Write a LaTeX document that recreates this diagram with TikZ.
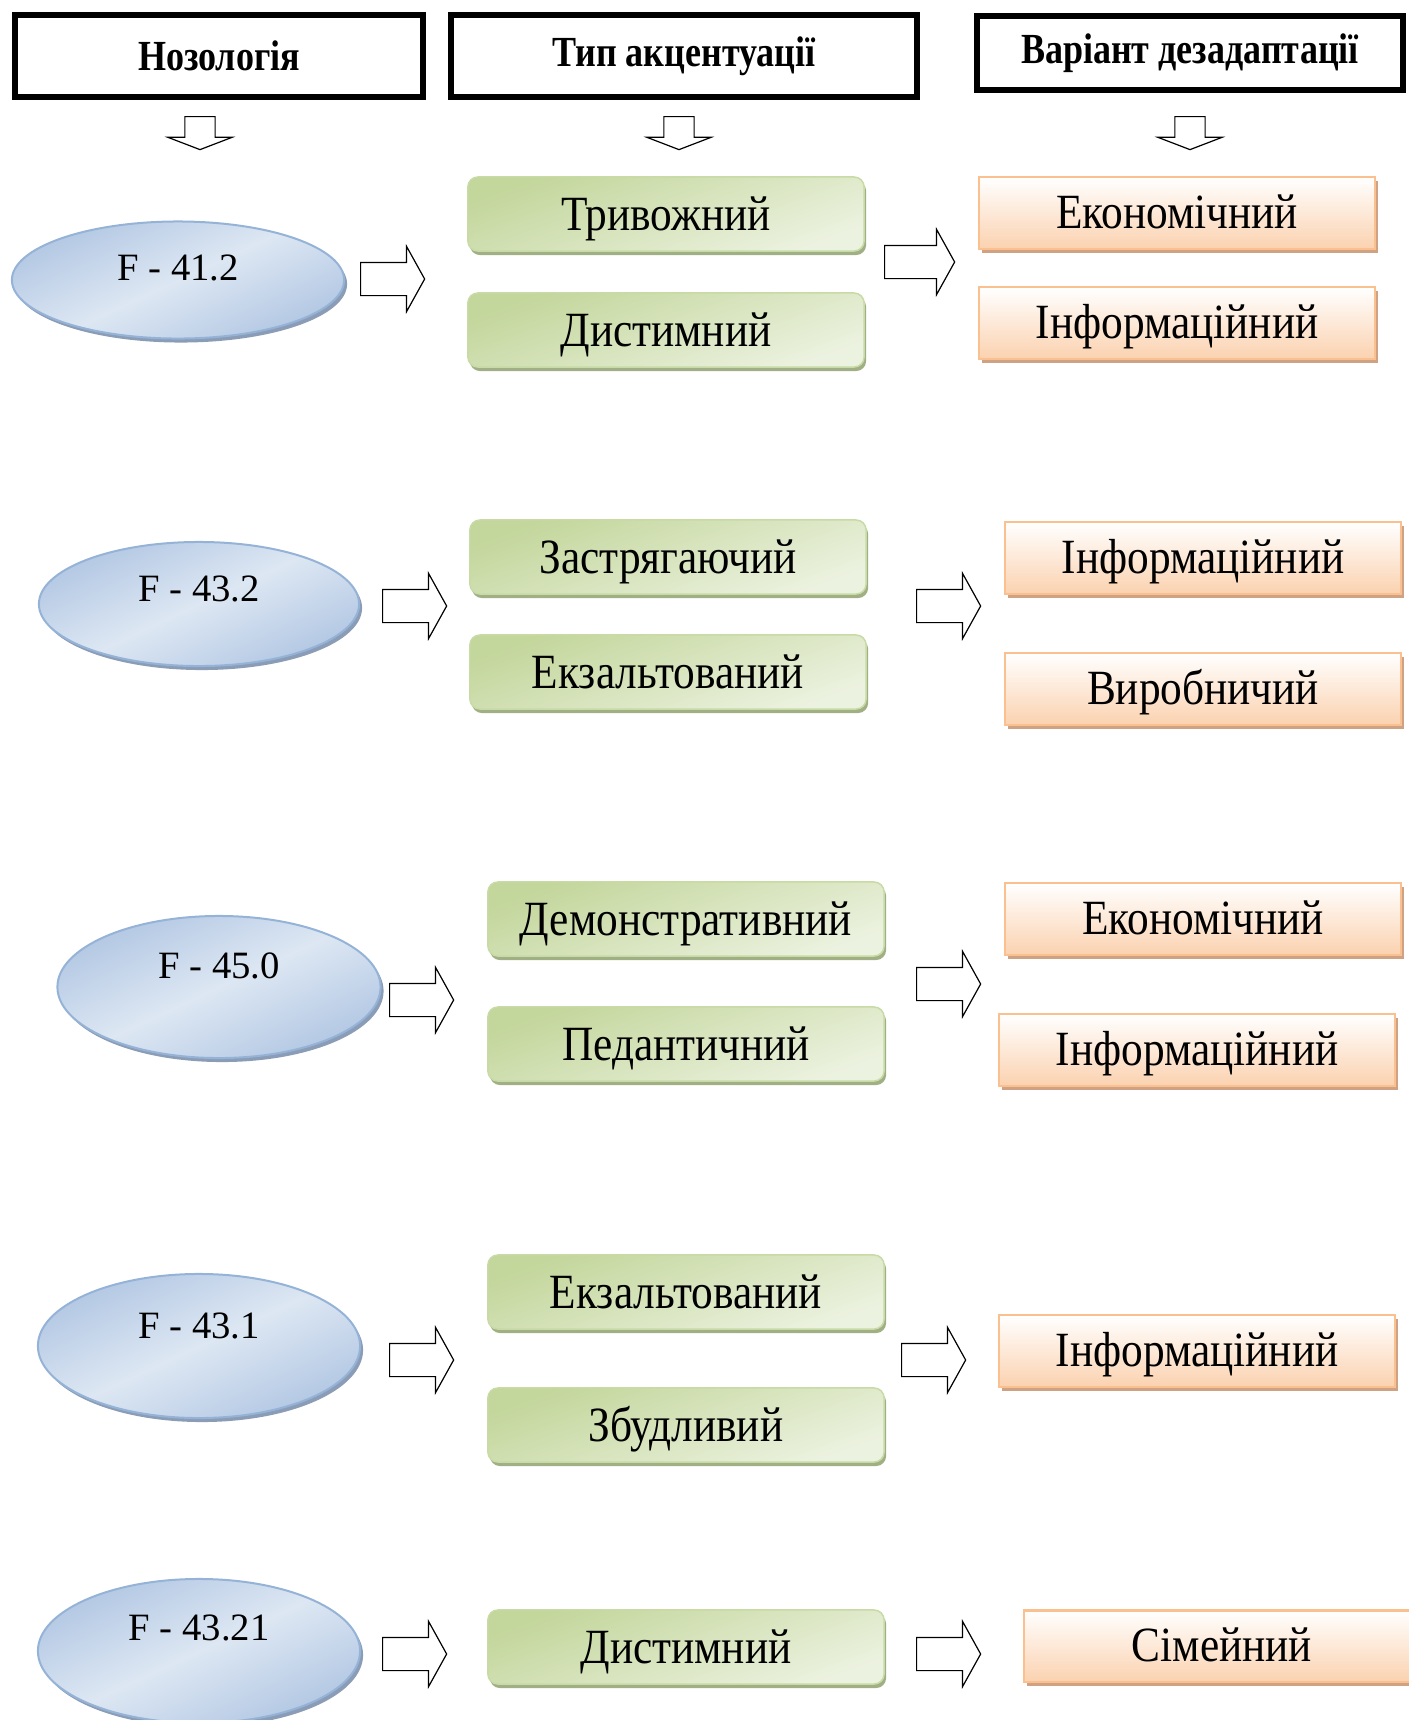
\documentclass[tikz,border=0pt]{standalone}
\usepackage{fontspec}
\setmainfont{Liberation Serif}
\newfontfamily\narrowserif[FakeStretch=0.88]{Liberation Serif}
\newfontfamily\headserif[FakeStretch=0.84]{Liberation Serif}
\usetikzlibrary{positioning,shapes,shapes.arrows,shadows}

\definecolor{bluedark}{RGB}{178,199,227}
\definecolor{bluelight}{RGB}{221,231,243}
\definecolor{blueline}{RGB}{149,179,215}
\definecolor{blueshad}{RGB}{138,156,182}
\definecolor{greendark}{RGB}{195,214,155}
\definecolor{greenlight}{RGB}{236,242,224}
\definecolor{greenline}{RGB}{200,218,165}
\definecolor{greenshad}{RGB}{160,176,132}
\definecolor{orangelight}{RGB}{251,210,176}
\definecolor{orangeline}{RGB}{250,192,144}
\definecolor{orangeshad}{RGB}{206,162,130}

\tikzstyle{header} = [rectangle, draw=black, line width=0.06cm, font=\headserif\fontsize{12.2}{14}\selectfont\bfseries, text centered]
\tikzstyle{nozo} = [ellipse, draw=blueline, line width=0.02cm, top color=bluedark, bottom color=bluedark, middle color=bluelight, shading angle=25, inner sep=0pt, drop shadow={shadow xshift=0.03cm, shadow yshift=-0.04cm, fill=blueshad, opacity=1}]
\tikzstyle{ftext} = [font=\fontsize{11}{13}\selectfont]
\tikzstyle{accent} = [rectangle, rounded corners=0.1cm, draw=greenline, line width=0.015cm, top color=greendark, bottom color=greenlight, shading angle=20, minimum width=3.96cm, minimum height=0.74cm, font=\narrowserif\fontsize{14}{16}\selectfont, text height=0.93em, text depth=0pt, text centered, drop shadow={shadow xshift=0.02cm, shadow yshift=-0.04cm, fill=greenshad, opacity=1}]
\tikzstyle{dezad} = [rectangle, draw=orangeline, line width=0.02cm, top color=white, bottom color=orangelight, minimum width=3.96cm, minimum height=0.71cm, font=\narrowserif\fontsize{14}{16}\selectfont, text height=0.88em, text depth=0pt, text centered, drop shadow={shadow xshift=0.03cm, shadow yshift=-0.04cm, fill=orangeshad, opacity=1}]
\tikzstyle{goright} = [single arrow, draw=black, line width=0.012cm, fill=white, inner xsep=0pt, inner ysep=0.16cm, single arrow head extend=0.16cm, single arrow tip angle=122, minimum height=0.64cm, anchor=tail]
\tikzstyle{godown} = [single arrow, draw=black, line width=0.012cm, fill=white, inner xsep=0pt, inner ysep=0.145cm, single arrow head extend=0.17cm, single arrow tip angle=138, minimum height=0.33cm, rotate=-90, anchor=tail]

\begin{document}
\begin{tikzpicture}[x=0.01cm, y=-0.01cm]
			\useasboundingbox (0,0) rectangle (1408,1720);

			% headers
			\node (hnozo) [header, minimum width=4.08cm, minimum height=0.81cm] at (219,56) {Нозологія};
			\node (htype) [header, minimum width=4.65cm, minimum height=0.81cm] at (684,56) {Тип акцентуації};
			\node (hvar) [header, minimum width=4.25cm, minimum height=0.74cm] at (1190,53) {Варіант дезадаптації};
			\node (dn1) [godown] at (200,116) {};
			\node (dn2) [godown] at (679,116) {};
			\node (dn3) [godown] at (1190,116) {};

			% F - 41.2
			\node (f412) [nozo, minimum width=3.32cm, minimum height=1.17cm, label={[ftext,yshift=0.12cm]center:F - 41.2}] at (178,280) {};
			\node (r1a) [goright] at (360,279) {};
			\node (tryv) [accent] at (666,214) {Тривожний};
			\node (dyst1) [accent] at (666,330) {Дистимний};
			\node (r1b) [goright, minimum height=0.7cm] at (884,262) {};
			\node (ekon1) [dezad] at (1177,213) {Економічний};
			\node (info1) [dezad] at (1177,323) {Інформаційний};

			% F - 43.2
			\node (f432) [nozo, minimum width=3.2cm, minimum height=1.24cm, label={[ftext,yshift=0.15cm]center:F - 43.2}] at (199,604) {};
			\node (r2a) [goright] at (382,606) {};
			\node (zastr) [accent] at (668,557) {Застрягаючий};
			\node (ekz1) [accent] at (668,672) {Екзальтований};
			\node (r2b) [goright] at (916,606) {};
			\node (info2) [dezad] at (1203,558) {Інформаційний};
			\node (vyrob) [dezad] at (1203,689) {Виробничий};

			% F - 45.0
			\node (f450) [nozo, minimum width=3.23cm, minimum height=1.42cm, label={[ftext,yshift=0.21cm]center:F - 45.0}] at (219,987) {};
			\node (r3a) [goright] at (389,1000) {};
			\node (demo) [accent] at (686,919) {Демонстративний};
			\node (ped) [accent] at (686,1044) {Педантичний};
			\node (r3b) [goright] at (916,984) {};
			\node (ekon2) [dezad] at (1203,919) {Економічний};
			\node (info3) [dezad] at (1197,1050) {Інформаційний};

			% F - 43.1
			\node (f431) [nozo, minimum width=3.22cm, minimum height=1.44cm, label={[ftext,yshift=0.2cm]center:F - 43.1}] at (199,1346) {};
			\node (r4a) [goright] at (389,1360) {};
			\node (ekz2) [accent] at (686,1292) {Екзальтований};
			\node (zbud) [accent] at (686,1425) {Збудливий};
			\node (r4b) [goright] at (901,1360) {};
			\node (info4) [dezad] at (1197,1351) {Інформаційний};

			% F - 43.21
			\node (f4321) [nozo, minimum width=3.22cm, minimum height=1.44cm, label={[ftext,yshift=0.23cm]center:F - 43.21}] at (199,1651) {};
			\node (r5a) [goright] at (382,1654) {};
			\node (dyst2) [accent] at (686,1647) {Дистимний};
			\node (r5b) [goright] at (916,1654) {};
			\node (simei) [dezad] at (1222,1646) {Сімейний};
\end{tikzpicture}
\end{document}
